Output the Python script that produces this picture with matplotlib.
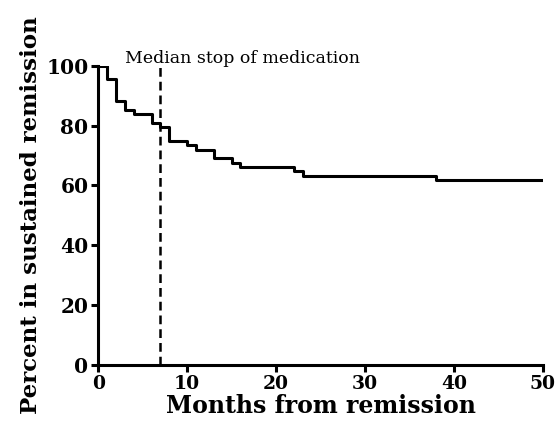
import matplotlib.pyplot as plt

# step times (months) and survival (%)
months = [0, 1, 2, 3, 4, 6, 7, 8, 10, 11, 13, 15, 16, 22, 23, 38, 50]
percent = [100, 95.5, 88.2, 85.3, 83.8, 80.9, 79.4, 75.0, 73.5, 72.0, 69.1, 67.6, 66.2, 64.7, 63.2, 61.8, 61.8]
median_stop = 7

plt.rcParams['font.family'] = ['DejaVu Serif']

fig = plt.figure(figsize=(5.55, 4.33), dpi=100)
ax = fig.add_axes([0.177, 0.157, 0.801, 0.691])

ax.step(months, percent, where='post', color='black', lw=2.2)
ax.plot([median_stop, median_stop], [0, 100], color='black', lw=1.8, ls=(0, (3.5, 2)))
ax.text(3.0, 101, 'Median stop of medication', ha='left', va='baseline', fontsize=12.5)

ax.set_xlim(0, 50)
ax.set_ylim(0, 100)
ax.set_xticks(range(0, 51, 10))
ax.set_yticks(range(0, 101, 20))
ax.spines['top'].set_visible(False)
ax.spines['right'].set_visible(False)
for s in ['left', 'bottom']:
    ax.spines[s].set_linewidth(2.2)
ax.tick_params(width=2.2, length=5, pad=2)
ax.tick_params(axis='y', labelsize=14.5)
ax.tick_params(axis='x', labelsize=13.5)
for lab in ax.get_xticklabels() + ax.get_yticklabels():
    lab.set_fontweight('bold')

ax.set_xlabel('Months from remission', fontsize=17, fontweight='bold', labelpad=1)
ax.set_ylabel('Percent in sustained remission', fontsize=16.5, fontweight='bold', labelpad=3)

fig.savefig('out.png', dpi=100)
